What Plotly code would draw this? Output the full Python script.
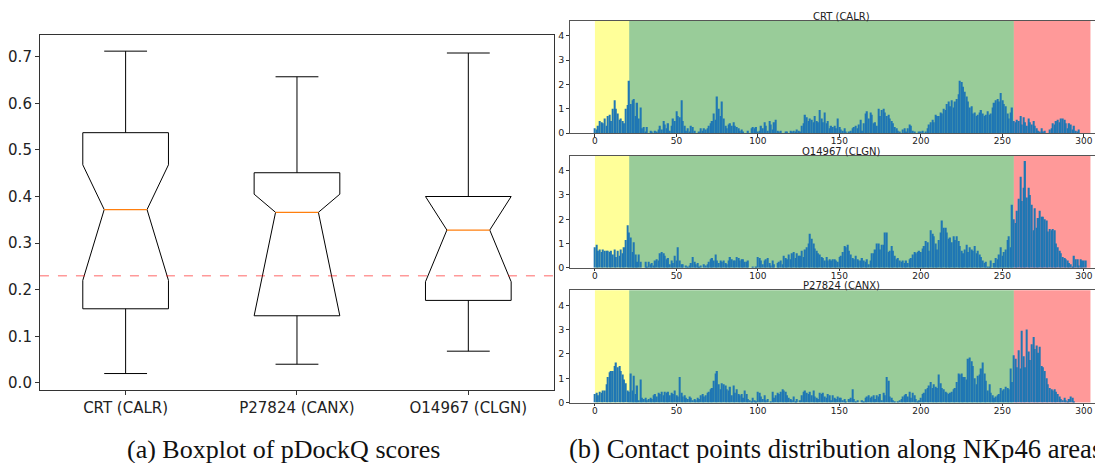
import plotly.graph_objects as go

# ---------------- data: boxplot (a) ----------------
box_labels = ["CRT (CALR)", "P27824 (CANX)", "O14967 (CLGN)"]
box_pos = [1, 2, 3]
whis_lo = [0.020, 0.040, 0.068]
q1 = [0.159, 0.144, 0.177]
notch_lo = [0.220, 0.144, 0.217]
median = [0.372, 0.366, 0.328]
notch_hi = [0.468, 0.405, 0.400]
q3 = [0.537, 0.451, 0.400]
whis_hi = [0.712, 0.657, 0.708]
threshold = 0.23

# ---------------- data: contact points (b) ----------------
crt = [
    0.2, 0.15, 0.3, 0.5, 0.45, 0.4, 0.6, 0.3, 0.7, 0.75,
    0.5, 1.0, 1.35, 1.0, 0.8, 0.55, 0.6, 0.5, 0.4, 1.0,
    1.15, 2.15, 1.2, 1.35, 1.4, 0.7, 1.25, 0.6, 1.05, 0.2,
    0.25, 0.05, 0.25, 0.0, 0.1, 0.05, 0.0, 0.1, 0.05, 0.15,
    0.3, 0.15, 0.5, 0.35, 0.2, 0.4, 0.1, 0.3, 0.6, 0.5,
    0.9, 0.7, 0.65, 1.35, 0.5, 0.3, 0.1, 0.2, 0.05, 0.3,
    0.25, 0.1, 0.0, 0.0, 0.05, 0.2, 0.1, 0.2, 0.15, 0.2,
    0.3, 0.4, 0.5, 0.8, 0.55, 1.5, 1.0, 0.7, 1.3, 0.6,
    0.3, 0.2, 0.35, 0.4, 0.3, 0.45, 0.3, 0.25, 0.2, 0.1,
    0.15, 0.05, 0.0, 0.0, 0.1, 0.0, 0.2, 0.25, 0.2, 0.25,
    0.05, 0.1, 0.3, 0.2, 0.45, 0.3, 0.1, 0.5, 0.35, 0.15,
    0.45, 0.55, 0.1, 0.05, 0.1, 0.0, 0.0, 0.05, 0.05, 0.0,
    0.1, 0.05, 0.1, 0.05, 0.15, 0.1, 0.05, 0.3, 0.4, 0.75,
    0.65, 0.5, 0.6, 0.55, 0.45, 0.7, 0.5, 0.45, 0.95, 0.6,
    0.45, 0.85, 0.4, 0.5, 0.2, 0.3, 0.25, 0.3, 0.2, 0.6,
    0.25, 0.15, 0.1, 0.2, 0.05, 0.0, 0.05, 0.1, 0.2, 0.25,
    0.3, 0.2, 0.35, 0.55, 0.1, 0.4, 0.8, 0.9, 0.6, 0.85,
    0.75, 0.4, 0.45, 0.3, 1.0, 0.7, 0.95, 1.0, 0.85, 0.7,
    0.75, 0.6, 0.5, 0.4, 0.25, 0.2, 0.1, 0.05, 0.0, 0.15,
    0.2, 0.05, 0.2, 0.35, 0.3, 0.1, 0.05, 0.0, 0.0, 0.05,
    0.05, 0.1, 0.0, 0.05, 0.2, 0.35, 0.45, 0.55, 0.45, 0.75,
    0.7, 0.7, 0.85, 0.8, 1.0, 0.95, 1.2, 1.3, 1.1, 1.35,
    1.05, 1.3, 1.4, 1.6, 2.15, 2.1, 1.9, 1.7, 1.5, 1.3,
    1.05, 1.1, 0.8, 0.85, 0.7, 0.75, 0.85, 0.95, 0.8, 0.7,
    0.75, 0.9, 0.75, 0.8, 1.05, 1.25, 1.35, 1.4, 1.3, 1.65,
    1.35, 1.2, 1.1, 0.8, 0.6, 0.85, 1.05, 0.5, 0.45, 0.55,
    0.5, 0.7, 0.35, 0.65, 0.45, 0.3, 0.6, 0.45, 0.35, 0.5,
    0.3, 0.2, 0.1, 0.05, 0.2, 0.05, 0.1, 0.0, 0.0, 0.15,
    0.2, 0.4, 0.35, 0.5, 0.55, 0.45, 0.6, 0.6, 0.55, 0.4,
    0.2, 0.4, 0.35, 0.15, 0.3, 0.1, 0.05, 0.15, 0.0, 0.0,
    0.0, 0.0, 0.0, 0.0,
]
clgn = [
    0.85, 0.95, 0.7, 0.75, 0.65, 0.75, 0.7, 0.7, 0.7, 0.65,
    0.7, 0.55, 0.75, 0.45, 0.7, 0.5, 0.75, 0.6, 0.85, 1.15,
    1.75, 1.45, 1.25, 0.65, 1.05, 0.55, 0.25, 0.55, 0.25, 0.0,
    0.0, 0.25, 0.05, 0.25, 0.15, 0.2, 0.1, 0.3, 0.35, 0.3,
    0.6, 0.65, 0.6, 0.5, 0.35, 0.4, 0.15, 0.3, 0.2, 0.5,
    0.3, 0.85, 0.3, 0.15, 0.15, 0.0, 0.1, 0.05, 0.1, 0.2,
    0.45, 0.25, 0.15, 0.2, 0.05, 0.1, 0.0, 0.15, 0.1, 0.15,
    0.25, 0.35, 0.4, 0.3, 0.55, 0.3, 0.2, 0.3, 0.25, 0.3,
    0.2, 0.15, 0.3, 0.45, 0.35, 0.3, 0.3, 0.45, 0.4, 0.3,
    0.35, 0.35, 0.25, 0.25, 0.3, 0.0, 0.0, 0.05, 0.0, 0.05,
    0.45, 0.4, 0.3, 0.15, 0.3, 0.35, 0.4, 0.2, 0.1, 0.3,
    0.15, 0.0, 0.2, 0.25, 0.3, 0.15, 0.5, 0.4, 0.35, 0.55,
    0.35, 0.6, 0.65, 0.4, 0.6, 0.5, 0.5, 0.7, 0.45, 0.75,
    0.85, 1.0, 1.4, 1.2, 1.0, 0.8, 0.7, 0.6, 0.55, 0.45,
    0.4, 0.3, 0.45, 0.3, 0.35, 0.3, 0.35, 0.35, 0.3, 0.25,
    0.45, 0.5, 0.65, 0.9, 0.85, 0.95, 0.7, 0.55, 0.4, 0.35,
    0.5, 0.35, 0.3, 0.3, 0.4, 0.3, 0.25, 0.35, 0.15, 0.3,
    0.6, 0.6, 0.75, 1.0, 1.0, 0.75, 0.95, 0.95, 1.45, 1.45,
    0.65, 0.7, 0.9, 0.7, 0.5, 0.35, 0.4, 0.3, 0.25, 0.3,
    0.2, 0.3, 0.2, 0.35, 0.4, 0.55, 0.65, 0.6, 0.65, 0.7,
    0.65, 0.8, 0.9, 1.1, 1.05, 0.7, 1.55, 1.4, 1.3, 1.0,
    0.75, 1.15, 1.45, 1.95, 1.65, 1.65, 1.45, 1.2, 1.25, 1.05,
    1.3, 1.15, 1.3, 1.1, 0.9, 0.7, 0.6, 0.75, 0.95, 0.65,
    0.85, 0.75, 0.7, 0.9, 0.6, 0.7, 0.55, 0.45, 0.3, 0.2,
    0.25, 0.05, 0.05, 0.3, 0.0, 0.2, 0.4, 0.35, 0.55, 0.85,
    0.5, 0.65, 0.75, 1.15, 1.3, 0.85, 2.6, 2.0, 1.85, 2.35,
    2.85, 3.75, 2.75, 3.3, 4.4, 2.9, 3.3, 3.0, 2.6, 1.55,
    2.45, 1.65, 2.05, 2.35, 2.1, 2.1, 2.0, 1.95, 1.5, 1.6,
    1.55, 1.6, 1.55, 1.0, 0.85, 0.7, 0.6, 0.45, 0.4, 0.35,
    0.3, 0.2, 0.15, 0.05, 0.5, 0.35, 0.35, 0.1, 0.35, 0.3,
    0.3, 0.3, 0.0, 0.0,
]
canx = [
    0.35, 0.4, 0.3, 0.45, 0.4, 0.5, 0.5, 0.75, 1.05, 1.25,
    1.3, 1.3, 1.5, 1.65, 1.45, 1.5, 1.3, 1.15, 0.95, 0.8,
    0.5, 0.45, 1.2, 0.5, 1.1, 0.35, 0.7, 0.1, 0.95, 0.2,
    0.15, 0.2, 0.1, 0.15, 0.2, 0.15, 0.3, 0.35, 0.25, 0.4,
    0.35, 0.45, 0.3, 0.45, 0.4, 0.45, 0.3, 0.4, 0.35, 0.5,
    0.3, 0.25, 1.05, 0.4, 0.25, 0.3, 0.2, 0.15, 0.25, 0.2,
    0.1, 0.15, 0.1, 0.2, 0.15, 0.3, 0.35, 0.25, 0.3, 0.4,
    0.45, 0.55, 0.6, 0.9, 1.2, 1.3, 0.75, 0.55, 0.8, 0.75,
    0.7, 0.55, 0.5, 0.65, 0.3, 0.7, 0.4, 0.55, 0.35, 0.3,
    0.35, 0.2, 0.5, 0.35, 0.15, 0.1, 0.05, 0.2, 0.1, 0.05,
    0.45, 0.4, 0.25, 0.15, 0.3, 0.1, 0.15, 0.0, 0.05, 0.45,
    0.2, 0.3, 0.4, 0.35, 0.45, 0.55, 0.5, 0.45, 0.3, 0.2,
    0.15, 0.1, 0.25, 0.05, 0.15, 0.0, 0.1, 0.3, 0.45, 0.5,
    0.4, 0.35, 0.45, 0.3, 0.5, 0.25, 0.2, 0.15, 0.4, 0.35,
    0.4, 0.25, 0.2, 0.35, 0.3, 0.1, 0.3, 0.2, 0.15, 0.25,
    0.2, 0.2, 0.1, 0.15, 0.05, 0.0, 0.15, 0.2, 0.55, 0.15,
    0.05, 0.1, 0.0, 0.0, 0.1, 0.05, 0.2, 0.25, 0.3, 0.2,
    0.25, 0.3, 0.15, 0.3, 0.25, 0.35, 0.1, 0.4, 0.3, 1.05,
    0.9, 0.25, 0.2, 0.1, 0.05, 0.0, 0.05, 0.1, 0.15, 0.25,
    0.3, 0.35, 0.25, 0.45, 0.2, 0.4, 0.3, 0.15, 0.05, 0.1,
    0.2, 0.35, 0.4, 0.55, 0.6, 0.7, 0.85, 0.6, 0.75, 0.65,
    0.6, 1.15, 0.8, 0.6, 0.55, 0.45, 0.4, 0.35, 0.4, 0.45,
    0.55, 0.6, 0.85, 1.2, 1.15, 1.2, 1.05, 1.05, 0.95, 1.8,
    1.85, 1.7, 1.5, 1.0, 0.75, 1.1, 1.15, 1.4, 1.65, 1.2,
    0.9, 0.5, 0.75, 0.4, 0.3, 0.2, 0.25, 0.3, 0.35, 0.6,
    0.5, 0.55, 0.65, 0.6, 0.55, 1.4, 0.85, 1.95, 1.8, 1.45,
    2.15, 1.4, 2.95, 1.9, 1.45, 3.0, 2.1, 1.75, 2.4, 2.7,
    2.2, 2.35, 2.05, 2.3, 1.5, 1.45, 1.3, 1.0, 0.75, 0.6,
    0.55, 0.5, 0.55, 0.45, 0.35, 0.25, 0.15, 0.1, 0.2, 0.1,
    0.05, 0.15, 0.25, 0.2, 0.05, 0.0, 0.0, 0.0, 0.0, 0.0,
    0.0, 0.0, 0.0, 0.0,
]
panel_titles = ["CRT (CALR)", "O14967 (CLGN)", "P27824 (CANX)"]
panel_series = [crt, clgn, canx]
region_start = [0, 21, 257]
region_end = [21, 257, 304]
region_color = ["rgba(255,255,0,0.4)", "rgba(0,128,0,0.4)", "rgba(255,0,0,0.4)"]
x_ticks = [0, 50, 100, 150, 200, 250, 300]
y_ticks_b = [0, 1, 2, 3, 4]

# the page body has an 8px margin; the figure is sized so that it ends at the window edge
OFF = 8
W, H = 1103 - OFF, 463 - OFF


def px(v):
    return (v - OFF) / W


def py(v):
    return 1 - (v - OFF) / H


FONT = "DejaVu Sans"
TXT = "#222222"

fig = go.Figure()

# ---------------- (a) notched boxplot drawn from the stats ----------------
hw = 0.25
for i in range(len(box_pos)):
    c = box_pos[i]
    xs = [c - hw, c - hw, c - hw / 2, c - hw, c - hw, c + hw, c + hw, c + hw / 2, c + hw, c + hw, c - hw]
    ys = [q1[i], notch_lo[i], median[i], notch_hi[i], q3[i], q3[i], notch_hi[i], median[i], notch_lo[i], q1[i], q1[i]]
    fig.add_trace(go.Scatter(x=xs, y=ys, mode="lines", line=dict(color="black", width=1),
                             xaxis="x", yaxis="y", showlegend=False, hoverinfo="skip"))
    fig.add_trace(go.Scatter(x=[c, c, None, c, c], y=[q1[i], whis_lo[i], None, q3[i], whis_hi[i]],
                             mode="lines", line=dict(color="black", width=1),
                             xaxis="x", yaxis="y", showlegend=False, hoverinfo="skip"))
    fig.add_trace(go.Scatter(x=[c - hw / 2, c + hw / 2, None, c - hw / 2, c + hw / 2],
                             y=[whis_lo[i], whis_lo[i], None, whis_hi[i], whis_hi[i]],
                             mode="lines", line=dict(color="black", width=1),
                             xaxis="x", yaxis="y", showlegend=False, hoverinfo="skip"))
    fig.add_trace(go.Scatter(x=[c - hw / 2, c + hw / 2], y=[median[i], median[i]], mode="lines",
                             line=dict(color="#ff7f0e", width=1.2),
                             xaxis="x", yaxis="y", showlegend=False, hoverinfo="skip"))

fig.add_shape(type="line", xref="x domain", yref="y", x0=0, x1=1, y0=threshold, y1=threshold,
              line=dict(color="rgba(255,0,0,0.4)", width=1.5, dash="dash"))

# ---------------- (b) bar panels ----------------
b_dom = [(134.5, 20.7), (270.7, 157.3), (407.0, 293.3)]

for k in range(3):
    ax = k + 2
    ser = panel_series[k]
    fig.add_trace(go.Bar(x=list(range(len(ser))), y=ser, marker=dict(color="#1f77b4", line=dict(width=0)),
                         xaxis=f"x{ax}", yaxis=f"y{ax}", showlegend=False, hoverinfo="skip"))
    for r in range(3):
        fig.add_shape(type="rect", xref=f"x{ax}", yref=f"y{ax} domain", x0=region_start[r], x1=region_end[r],
                      y0=0, y1=1, fillcolor=region_color[r], line=dict(width=0), layer="below")
    bot, top = b_dom[k]
    fig.add_annotation(text=panel_titles[k], xref="paper", yref="paper", x=px(842), y=py(top + 2),
                       xanchor="center", yanchor="bottom", showarrow=False, borderpad=0,
                       font=dict(family=FONT, size=10, color=TXT))

axis_common = dict(showgrid=False, zeroline=False, ticks="outside", tickwidth=1,
                   tickcolor="#333", showline=True, mirror=True)

layout = dict(
    width=W, height=H, margin=dict(l=0, r=0, t=0, b=0),
    paper_bgcolor="white", plot_bgcolor="white", bargap=0.2,
    font=dict(family=FONT, color=TXT),
    xaxis=dict(domain=[px(39), px(554)], range=[0.5, 3.5], tickvals=box_pos, ticktext=box_labels,
               tickfont=dict(size=15, color=TXT), linecolor="#333", anchor="y", ticklen=4, **axis_common),
    yaxis=dict(domain=[py(394), py(35)], range=[-0.0148, 0.7473],
               tickvals=[0, 0.1, 0.2, 0.3, 0.4, 0.5, 0.6, 0.7], tickformat=".1f",
               tickfont=dict(size=15, color=TXT), linecolor="#333", anchor="x", ticklen=4, **axis_common),
)
for k in range(3):
    ax = k + 2
    bot, top = b_dom[k]
    layout[f"xaxis{ax}"] = dict(domain=[px(569.7), 1.0], range=[-15.5, (1103 - 595) / 1.633], tickvals=x_ticks,
                                tickfont=dict(size=9, color=TXT), linecolor="#555", anchor=f"y{ax}",
                                ticklen=2.5, ticklabelstandoff=-3, **axis_common)
    layout[f"yaxis{ax}"] = dict(domain=[py(bot), py(top)], range=[0, 4.62], tickvals=y_ticks_b,
                                tickfont=dict(size=9.5, color=TXT), linecolor="#555", anchor=f"x{ax}",
                                ticklen=2.5, **axis_common)
fig.update_layout(**layout)

# captions
fig.add_annotation(text="(a) Boxplot of pDockQ scores", xref="paper", yref="paper", x=px(283), y=py(454),
                   xanchor="center", yanchor="middle", showarrow=False,
                   font=dict(family="Liberation Serif", size=26, color="#111"))
fig.add_annotation(text="(b) Contact points distribution along NKp46 areas", xref="paper", yref="paper",
                   x=px(567), y=py(454), xanchor="left", yanchor="middle", showarrow=False,
                   font=dict(family="Liberation Serif", size=26.6, color="#111"))

fig.write_html("out.html")
